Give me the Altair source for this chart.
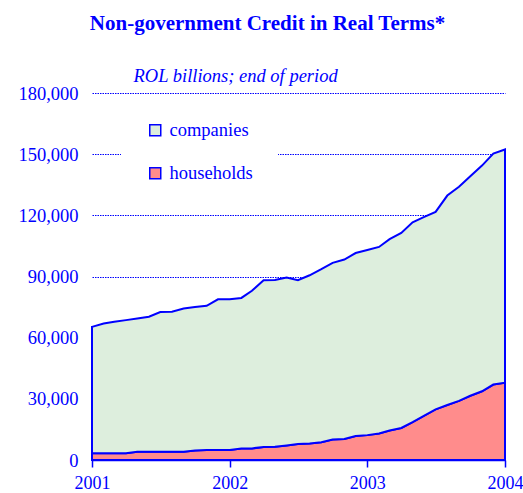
import altair as alt
import pandas as pd

months = [f"{2001 + i // 12}-{i % 12 + 1:02d}-01" for i in range(36)] + ["2004-01-01"]

companies = [62000, 63600, 64500, 65300, 65400, 66200, 68500, 68600, 70200, 70300,
             70700, 73900, 74000, 73900, 77300, 81800, 81800, 82400, 80400, 82500,
             84900, 86600, 88000, 89700, 90800, 91500, 93800, 95700, 98000, 97400,
             96900, 102700, 105000, 107700, 110700, 113300, 114400]
households = [3300, 3300, 3300, 3300, 4000, 4100, 4100, 4100, 4100, 4700,
              4900, 4900, 4900, 5600, 5700, 6400, 6500, 7100, 7800, 8100,
              8700, 10100, 10300, 11800, 12200, 13000, 14500, 15700, 18600, 21800,
              24800, 27000, 29000, 31500, 33700, 37000, 37900]

series = ["companies", "households"]
colors = ["#DDEEDD", "#FF8C8C"]
y_ticks = [0, 30000, 60000, 90000, 120000, 150000, 180000]
x_ticks = ["2001-01-01", "2002-01-01", "2003-01-01", "2004-01-01"]

rows = []
for d, c, h in zip(months, companies, households):
    rows.append({"date": d, "series": "households", "value": h, "ord": 0})
    rows.append({"date": d, "series": "companies", "value": c, "ord": 1})
df = pd.DataFrame(rows)

BLUE = "#0000FF"
FONT = "Liberation Serif"

chart = alt.Chart(df).mark_area(
    stroke=BLUE, strokeWidth=2, fillOpacity=1, interpolate="linear"
).encode(
    x=alt.X("date:T",
            scale=alt.Scale(type="utc", domain=[x_ticks[0], x_ticks[-1]], nice=False),
            axis=alt.Axis(values=[alt.DateTime(year=int(t[:4]), month=1, date=1, utc=True) for t in x_ticks],
                          format="%Y", formatType="utc", title=None, grid=False,
                          domainColor=BLUE, domainWidth=1.5, tickColor=BLUE, tickWidth=1.5,
                          tickSize=7, labelColor=BLUE, labelFont=FONT, labelFontSize=18,
                          labelPadding=7, labelFlush=False)),
    y=alt.Y("value:Q", stack="zero",
            scale=alt.Scale(domain=[0, 180000], nice=False),
            axis=alt.Axis(values=y_ticks, format=",.0f", grid=True, gridColor=BLUE,
                          gridDash=[1.5, 1], gridWidth=1, domain=False, ticks=False,
                          labelColor=BLUE, labelFont=FONT, labelFontSize=18.5,
                          labelPadding=14,
                          title="ROL billions; end of period", titleAngle=0,
                          titleAlign="left", titleBaseline="middle", titleX=41, titleY=-18,
                          titleFont=FONT, titleFontSize=18.5, titleFontStyle="italic",
                          titleFontWeight="normal", titleColor=BLUE)),
    color=alt.Color("series:N", scale=alt.Scale(domain=series, range=colors),
                    legend=alt.Legend(title=None, orient="none", legendX=29, legendY=3,
                                      fillColor="white", padding=25, symbolType="square",
                                      symbolSize=121, symbolStrokeColor=BLUE,
                                      symbolStrokeWidth=1.5, symbolOpacity=1,
                                      labelFont=FONT, labelFontSize=18.5, labelColor=BLUE,
                                      labelOffset=5, rowPadding=24)),
    order=alt.Order("ord:Q"),
).properties(
    width=413, height=367,
    padding={"left": 92, "top": 93, "right": 18, "bottom": 33},
    autosize=alt.AutoSizeParams(type="none"),
    title=alt.TitleParams("Non-government Credit in Real Terms*", font=FONT, fontSize=21,
                          fontWeight="bold", color=BLUE, anchor="middle", frame="group",
                          dx=-31, offset=32),
).configure_view(stroke=None)

chart.save("out.html", embed_options={"renderer": "svg", "actions": False})
